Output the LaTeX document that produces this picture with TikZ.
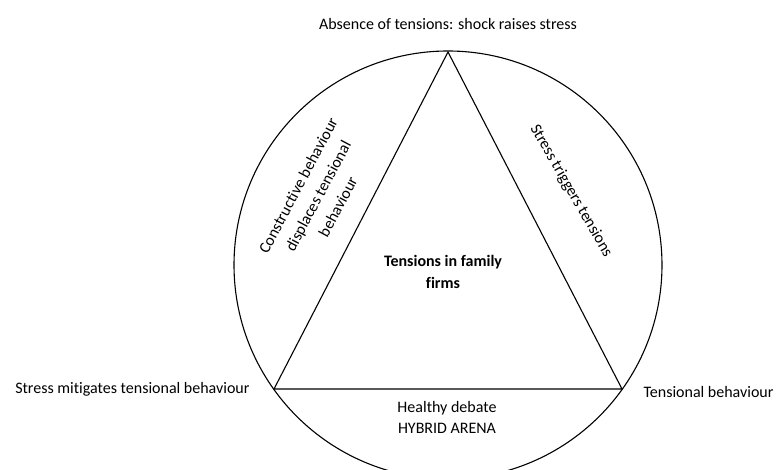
\documentclass[tikz,border=0pt]{standalone}
\usepackage{fontspec}
\setmainfont{Carlito}[Ligatures=CommonOff]
\usetikzlibrary{positioning}
\tikzset{%
	rim/.style={draw, circle, line width=1.1pt, minimum size=428pt, inner sep=0pt},
	edge/.style={line width=1.1pt, line join=miter},
	outer/.style={font=\fontsize{16}{21}\selectfont},
	inner/.style={font=\fontsize{16}{21}\selectfont, align=center},
	slant/.style={font=\fontsize{16}{22.5}\selectfont, align=center},
	core/.style={font=\fontsize{16}{22}\selectfont\bfseries, align=center}
}
\begin{document}
\begin{tikzpicture}[x=1pt, y=1pt]
	\useasboundingbox (0,0) rectangle (777,470);
	\node[rim] (arena) at (448,205) {};
	\coordinate (top) at (448,418);
	\coordinate (bl) at (274,81);
	\coordinate (br) at (622,81);

	\draw[edge] (top) -- (bl) -- (br) -- cycle;

	\node[outer, above=19pt of top] (absence) {Absence of tensions: shock raises stress};
	\node[outer, left=21pt of bl] (mitigate) {Stress mitigates tensional behaviour};
	\node[outer, right=18pt of br, yshift=-3pt] (tensional) {Tensional behaviour};
	\node[core] (tff) at (443,198) {Tensions in family\\firms};
	\node[inner] (debate) at (447,53) {Healthy debate\\HYBRID ARENA};
	\node[slant, rotate=62] (displace) at (318,274) {Constructive behaviour\\displaces tensional\\behaviour};
	\node[slant, rotate=-60] (trigger) at (571,279) {Stress triggers tensions};
\end{tikzpicture}
\end{document}
